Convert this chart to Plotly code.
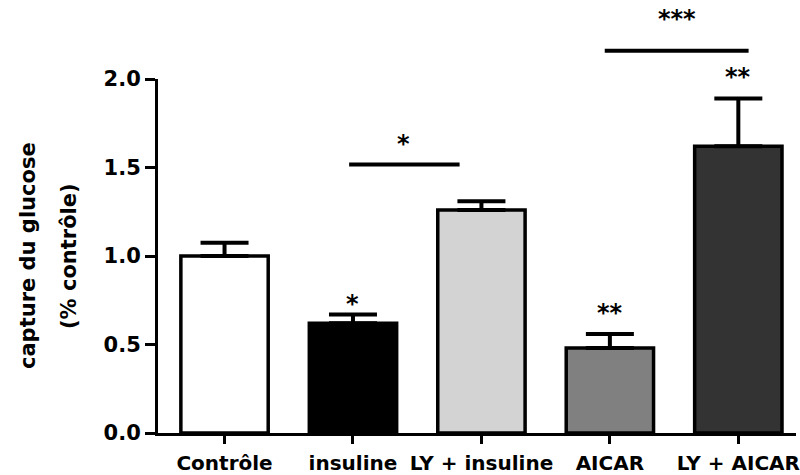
import plotly.graph_objects as go

# ---- data ----
categories = ["Contrôle", "insuline", "LY + insuline", "AICAR", "LY + AICAR"]
means = [1.00, 0.62, 1.26, 0.48, 1.62]
sem = [0.075, 0.05, 0.05, 0.08, 0.27]
bar_colors = ["#ffffff", "#000000", "#d3d3d3", "#808080", "#333333"]

# significance markers over single bars (category index, y value, label)
bar_star_x = [1, 3, 4]
bar_star_y = [0.73, 0.68, 2.01]
bar_star_text = ["*", "**", "**"]

# comparison brackets: x span, y level, label position and text
bracket_x = [[0.97, 1.83], [2.96, 4.08]]
bracket_y = [1.517, 2.16]
bracket_star_x = [1.39, 3.52]
bracket_star_y = [1.63, 2.34]
bracket_star_text = ["*", "***"]

y_ticks = [0.0, 0.5, 1.0, 1.5, 2.0]
y_max = 2.0

FONT = "DejaVu Sans"
x_pos = list(range(len(categories)))

fig = go.Figure()

fig.add_trace(go.Bar(
    x=x_pos,
    y=means,
    width=0.68,
    marker=dict(color=bar_colors, line=dict(color="#000000", width=3.5)),
    error_y=dict(
        type="data",
        symmetric=False,
        array=sem,
        arrayminus=[0] * len(sem),
        color="#000000",
        thickness=4,
        width=24,
    ),
    hoverinfo="skip",
    showlegend=False,
))

# bracket lines (paper y so they may sit above the plot area)
for xs, yv in zip(bracket_x, bracket_y):
    fig.add_shape(
        type="line", xref="x", yref="paper",
        x0=xs[0], x1=xs[1], y0=yv / y_max, y1=yv / y_max,
        line=dict(color="#000000", width=4),
    )

star_font = dict(family=FONT, size=24, color="#000000", weight="bold")
for xv, yv, t in zip(bar_star_x + bracket_star_x,
                     bar_star_y + bracket_star_y,
                     bar_star_text + bracket_star_text):
    fig.add_annotation(
        x=xv, y=yv / y_max, xref="x", yref="paper", text=t, showarrow=False,
        xanchor="center", yanchor="middle", font=star_font,
    )

title_lines = ["capture du glucose", "(% contrôle)"]
title_shift = [-130, -89]
for txt, sh in zip(title_lines, title_shift):
    fig.add_annotation(
        text=txt, xref="paper", yref="paper", x=0, y=0.5,
        xshift=sh, xanchor="center", yanchor="middle",
        textangle=-90, showarrow=False,
        font=dict(family=FONT, size=21, color="#000000", weight="bold"),
    )

fig.update_layout(
    width=800, height=475,
    margin=dict(l=158, r=0, t=79, b=36),
    plot_bgcolor="#ffffff", paper_bgcolor="#ffffff",
    font=dict(family=FONT, color="#000000"),
    xaxis=dict(
        range=[-0.518, 4.449],
        tickvals=x_pos, ticktext=categories,
        showline=True, linecolor="#000000", linewidth=3,
        ticks="outside", ticklen=8, tickwidth=3, tickcolor="#000000",
        showgrid=False, zeroline=False, tickangle=0,
        ticklabeloverflow="allow", ticklabelstandoff=2,
        tickfont=dict(family=FONT, size=20, color="#000000", weight="bold"),
    ),
    yaxis=dict(
        range=[0, y_max],
        tickvals=y_ticks, tickformat=".1f",
        showline=True, linecolor="#000000", linewidth=3,
        ticks="outside", ticklen=10, tickwidth=3, tickcolor="#000000",
        showgrid=False, zeroline=False,
        tickfont=dict(family=FONT, size=21, color="#000000", weight="bold"),
    ),
)

fig.write_html(
    "out.html",
    config={"displayModeBar": False},
    post_script="document.body.style.margin='0';document.body.style.overflow='hidden';",
)
